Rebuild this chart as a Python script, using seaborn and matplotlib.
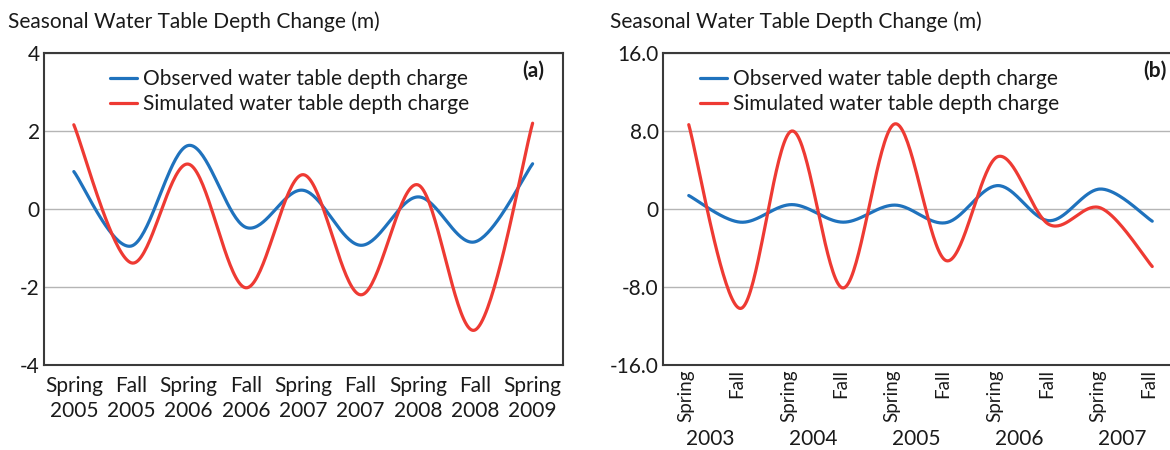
import numpy as np
import pandas as pd
import matplotlib
matplotlib.use("Agg")
import matplotlib.pyplot as plt
import matplotlib.transforms as mtransforms
import seaborn as sns

# ---- data -------------------------------------------------------------
seasons_a = ["Spring\n2005", "Fall\n2005", "Spring\n2006", "Fall\n2006", "Spring\n2007",
             "Fall\n2007", "Spring\n2008", "Fall\n2008", "Spring\n2009"]
observed_a = [0.96, -0.95, 1.63, -0.47, 0.48, -0.93, 0.31, -0.84, 1.16]
simulated_a = [2.16, -1.38, 1.15, -2.02, 0.88, -2.20, 0.62, -3.10, 2.20]

seasons_b = ["Spring", "Fall"] * 5
years_b = ["2003", "2004", "2005", "2006", "2007"]
observed_b = [1.38, -1.35, 0.45, -1.35, 0.40, -1.40, 2.40, -1.20, 2.05, -1.25]
simulated_b = [8.65, -10.2, 8.00, -8.10, 8.73, -5.30, 5.37, -1.60, 0.10, -5.90]

yticks_a = [-4, -2, 0, 2, 4]
ytick_labels_a = ["-4", "-2", "0", "2", "4"]
yticks_b = [-16, -8, 0, 8, 16]
ytick_labels_b = ["-16.0", "-8.0", "0", "8.0", "16.0"]

series_names = ["Observed water table depth charge", "Simulated water table depth charge"]
title_text = "Seasonal Water Table Depth Change (m)"

BLUE = "#1f72bd"
RED = "#ee3a33"
FONT = "Lato"
FS = 15


def smooth_curve(values, steps=40):
    """Catmull-Rom style smoothed line through equally spaced points."""
    y = np.asarray(values, dtype=float)
    x = np.arange(len(y), dtype=float)
    px = np.concatenate([[x[0]], x, [x[-1]]])
    py = np.concatenate([[y[0]], y, [y[-1]]])
    xs, ys = [], []
    t = np.linspace(0, 1, steps, endpoint=False)
    for i in range(len(y) - 1):
        p0, p1, p2, p3 = (np.array([px[i + k], py[i + k]]) for k in range(4))
        c1 = p1 + (p2 - p0) / 6.0
        c2 = p2 - (p3 - p1) / 6.0
        b = ((1 - t) ** 3)[:, None] * p1 + (3 * (1 - t) ** 2 * t)[:, None] * c1 \
            + (3 * (1 - t) * t ** 2)[:, None] * c2 + (t ** 3)[:, None] * p2
        xs.append(b[:, 0]); ys.append(b[:, 1])
    xs.append([x[-1]]); ys.append([y[-1]])
    return np.concatenate(xs), np.concatenate(ys)


def curves_frame(obs, sim):
    parts = []
    for name, vals in zip(series_names, (obs, sim)):
        cx, cy = smooth_curve(vals)
        parts.append(pd.DataFrame({"x": cx, "y": cy, "series": name}))
    return pd.concat(parts, ignore_index=True)


sns.set_theme(style="white")
plt.rcParams["font.family"] = [FONT, "DejaVu Sans"]
plt.rcParams["text.color"] = "#1a1a1a"

fig = plt.figure(figsize=(11.7, 4.5), dpi=100)
W, H = 1170.0, 450.0
ax_a = fig.add_axes([44 / W, 85 / H, (563 - 44) / W, 312 / H])
ax_b = fig.add_axes([663 / W, 85 / H, (1178 - 663) / W, 312 / H])

for ax, obs, sim in ((ax_a, observed_a, simulated_a), (ax_b, observed_b, simulated_b)):
    df = curves_frame(obs, sim)
    sns.lineplot(data=df, x="x", y="y", hue="series", sort=False,
                 palette=[BLUE, RED], linewidth=2.3, ax=ax, estimator=None)
    ax.set_xlabel("")
    ax.set_ylabel("")
    ax.grid(axis="y", color="#b5b5b5", linewidth=1.0)
    ax.grid(axis="x", visible=False)
    for sp in ax.spines.values():
        sp.set_color("#3a3a3a")
        sp.set_linewidth(1.5)
    ax.tick_params(axis="both", length=0, labelsize=FS, colors="#1a1a1a")
    ax.tick_params(axis="y", pad=3)

# panel (a)
ax_a.set_xlim(-0.52, 8.53)
ax_a.set_ylim(-4, 4)
ax_a.set_yticks(yticks_a, ytick_labels_a)
ax_a.set_xticks(range(len(seasons_a)), seasons_a, linespacing=1.3)
ax_a.tick_params(axis="x", pad=8)

# panel (b)
ax_b.set_xlim(-0.5, 9.5)
ax_b.set_ylim(-16, 16)
ax_b.set_yticks(yticks_b, ytick_labels_b)
ax_b.set_xticks(range(len(seasons_b)), seasons_b, rotation=90, va="top", ha="center",
                fontsize=FS - 1.5)
ax_b.tick_params(axis="x", pad=3)
shift = mtransforms.ScaledTranslation(-3 / 100, 0, fig.dpi_scale_trans)
for lab in ax_b.get_xticklabels():
    lab.set_transform(lab.get_transform() + shift)
blend = mtransforms.blended_transform_factory(ax_b.transData, ax_b.transAxes)
for k, yr in enumerate(years_b):
    ax_b.text(2 * k + 0.42, -0.236, yr, transform=blend, ha="center", va="center", fontsize=FS)

# legends and panel tags
for ax, lx, tag, tx in ((ax_a, 0.127, "(a)", 0.963), (ax_b, 0.072, "(b)", 0.977)):
    ax.legend(title=None, loc="upper left", bbox_to_anchor=(lx, 0.948), frameon=False,
              fontsize=FS, borderpad=0, borderaxespad=0, handlelength=1.3,
              handletextpad=0.3, labelspacing=0.25)
    ax.text(tx, 0.942, tag, transform=ax.transAxes, ha="right", va="center",
            fontsize=FS, fontweight="bold")

fig.text(8 / W, 1 - 22 / H, title_text, ha="left", va="center", fontsize=FS)
fig.text(610 / W, 1 - 22 / H, title_text, ha="left", va="center", fontsize=FS)

fig.savefig("out.png", dpi=100)
